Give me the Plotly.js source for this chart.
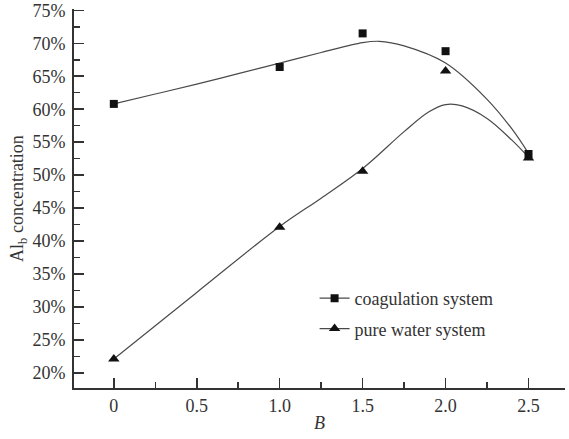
<!DOCTYPE html>
<html>
<head>
<meta charset="utf-8">
<script src="https://cdn.plot.ly/plotly-3.0.1.min.js"></script>
<style>html,body{margin:0;padding:0;background:#fff;}#chart{width:569px;height:439px;}</style>
</head>
<body>
<div id="chart"></div>
<script>
// Measured data points
const B = [0, 1.0, 1.5, 2.0, 2.5];
const coagulation = [60.8, 66.4, 71.5, 68.8, 53.2];
const pureWater = [22.1, 42.1, 50.6, 65.8, 52.6];

// Fitted curves
const curveB = [0, 0.25, 0.5, 0.75, 1.0, 1.25, 1.5, 1.6, 1.75, 2.0, 2.25, 2.4, 2.5];
const coagulationCurve = [60.8, 62.3, 63.8, 65.4, 67.0, 68.6, 70.1, 70.3, 69.6, 67.0, 61.5, 57.0, 53.3];
const pureWaterCurveB = [0, 0.5, 1.0, 1.25, 1.5, 1.75, 1.9, 2.0, 2.1, 2.25, 2.4, 2.5];
const pureWaterCurve = [22.1, 32.2, 42.2, 46.5, 51.0, 56.6, 59.6, 60.7, 60.5, 58.6, 55.3, 52.7];

const yTicks = [20, 25, 30, 35, 40, 45, 50, 55, 60, 65, 70, 75];
const yTickText = ['20%', '25%', '30%', '35%', '40%', '45%', '50%', '55%', '60%', '65%', '70%', '75%'];
const xTicks = [0, 0.5, 1.0, 1.5, 2.0, 2.5];
const xTickText = ['0', '0.5', '1.0', '1.5', '2.0', '2.5'];

const FONT = 'Liberation Serif, Times New Roman, serif';
const INK = '#333333';
const LINE = '#4a4a4a';

const traces = [
  {x: curveB, y: coagulationCurve, mode: 'lines', line: {color: LINE, width: 1.2, shape: 'spline', smoothing: 1}, showlegend: false, hoverinfo: 'skip'},
  {x: pureWaterCurveB, y: pureWaterCurve, mode: 'lines', line: {color: LINE, width: 1.2, shape: 'spline', smoothing: 1}, showlegend: false, hoverinfo: 'skip'},
  {x: B, y: coagulation, mode: 'markers', marker: {symbol: 'square', size: 8, color: '#111'}, showlegend: false},
  {x: B, y: pureWater, mode: 'markers', marker: {symbol: 'triangle-up', size: 10, color: '#111'}, showlegend: false},
  {x: [null], y: [null], name: 'coagulation system', legendgroup: 'a', mode: 'lines+markers', line: {color: LINE, width: 1.2}, marker: {symbol: 'square', size: 8, color: '#111'}},
  {x: [null], y: [null], name: 'pure water system', legendgroup: 'b', mode: 'lines+markers', line: {color: LINE, width: 1.2}, marker: {symbol: 'triangle-up', size: 10, color: '#111'}}
];

const layout = {
  width: 569, height: 439,
  margin: {l: 74, r: 4, t: 9, b: 51},
  paper_bgcolor: '#fff', plot_bgcolor: '#fff',
  font: {family: FONT, size: 18, color: INK},
  showlegend: true,
  legend: {x: 0.49, y: 0.285, xanchor: 'left', yanchor: 'top', bgcolor: 'rgba(0,0,0,0)', font: {family: FONT, size: 18, color: INK}, tracegroupgap: 4, itemwidth: 30},
  xaxis: {
    range: [-0.24, 2.72], showgrid: false, zeroline: false,
    showline: true, linecolor: INK, linewidth: 2,
    ticks: 'inside', ticklen: 10, tickwidth: 1.5, tickcolor: INK,
    tickvals: xTicks, ticktext: xTickText, tickfont: {family: FONT, size: 18, color: INK},
    minor: {ticks: 'inside', ticklen: 6, tickwidth: 1.5, tickcolor: INK, dtick: 0.25, tick0: 0, showgrid: false},
    title: {text: '<i>B</i>', font: {family: FONT, size: 18, color: INK}, standoff: 2}
  },
  yaxis: {
    range: [17.7, 75.2], showgrid: false, zeroline: false,
    showline: true, linecolor: INK, linewidth: 2,
    ticks: 'inside', ticklen: 10, tickwidth: 1.5, tickcolor: INK, ticklabelstandoff: 3,
    tickvals: yTicks, ticktext: yTickText, tickfont: {family: FONT, size: 18, color: INK},
    minor: {ticks: 'inside', ticklen: 6, tickwidth: 1.5, tickcolor: INK, dtick: 2.5, tick0: 20, showgrid: false},
    title: {text: 'Al<sub>b</sub> concentration', font: {family: FONT, size: 18, color: INK}, standoff: 4}
  }
};

Plotly.newPlot('chart', traces, layout, {displayModeBar: false, staticPlot: true});
</script>
</body>
</html>
